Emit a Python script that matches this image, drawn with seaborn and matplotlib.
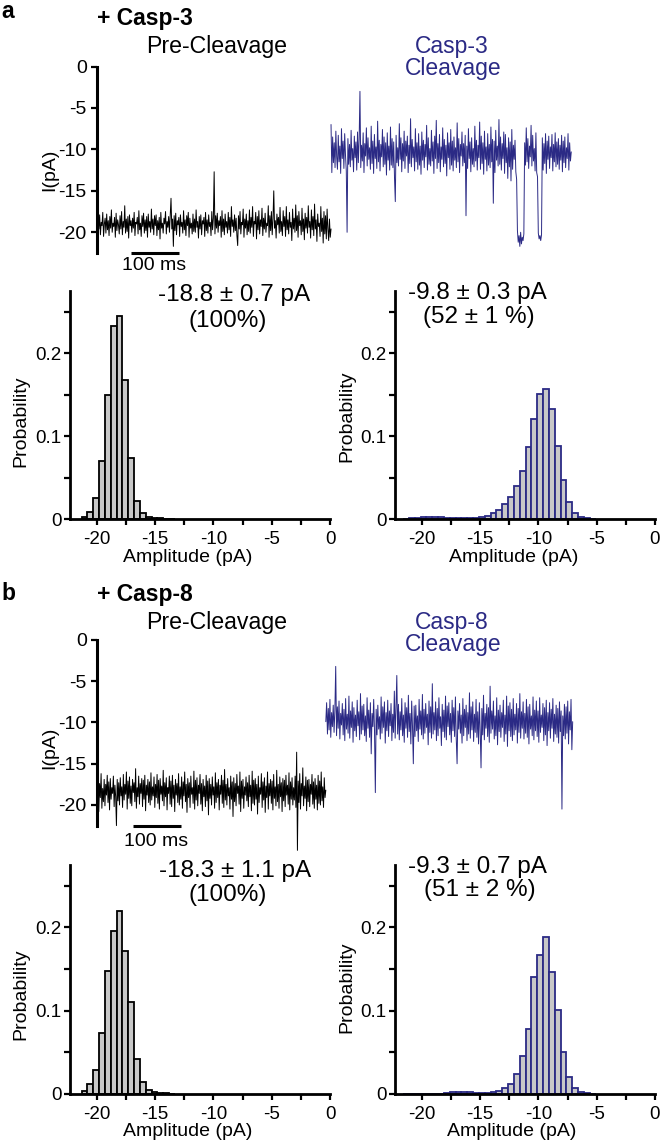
import numpy as np
import pandas as pd
import matplotlib
matplotlib.use("Agg")
import matplotlib.pyplot as plt
import seaborn as sns

# ---------------- data ----------------
BLUE = "#2b2a85"
GRAY = "#c8c8c8"

# panel a, current trace (pA), pre-cleavage (0-494 ms) and after Casp-3 cleavage (494-1000 ms)
trace_a_pre = [
    -17.0, -20.9, -18.4, -19.6, -17.9, -20.3, -18.8, -19.2, -17.6, -20.5, -19.0, -18.3, -20.1, -17.8, -19.7,
    -18.6, -20.4, -18.1, -19.5, -17.3, -20.0, -18.9, -19.3, -18.2, -20.6, -17.7, -19.8, -18.5, -19.1, -20.2,
    -18.0, -19.6, -17.5, -20.3, -18.7, -19.4, -16.8, -20.1, -18.4, -19.9, -18.1, -20.7, -17.9, -19.2, -18.6,
    -20.0, -18.3, -19.5, -17.6, -20.4, -18.8, -19.0, -18.2, -20.2, -17.4, -19.7, -18.9, -20.5, -18.0, -19.3,
    -17.7, -20.1, -18.5, -19.8, -18.1, -20.6, -17.8, -19.4, -18.7, -20.0, -17.2, -19.6, -18.4, -20.3, -18.0,
    -19.2, -17.9, -20.4, -18.6, -19.7, -18.2, -20.8, -17.6, -19.5, -18.9, -20.1, -18.3, -19.0, -17.5, -20.2,
    -18.7, -19.4, -18.1, -20.0, -17.8, -15.9, -19.6, -18.4, -21.7, -18.0, -19.8, -17.7, -20.3, -18.6, -19.1,
    -18.2, -20.5, -17.9, -19.3, -18.8, -20.1, -17.4, -19.7, -18.5, -20.4, -18.0, -19.2, -17.6, -20.6, -18.3,
    -19.5, -18.9, -20.2, -17.8, -19.9, -18.4, -20.0, -17.3, -19.4, -18.7, -20.7, -18.1, -19.6, -17.9, -20.3,
    -18.6, -19.0, -18.2, -20.5, -17.6, -19.8, -18.5, -20.1, -17.9, -19.3, -18.8, -20.4, -17.5, -19.7, -18.3,
    -12.7, -20.2, -18.0, -19.5, -17.7, -20.0, -18.6, -19.2, -18.1, -20.6, -17.4, -19.9, -18.4, -20.3, -17.8,
    -19.4, -18.7, -20.1, -17.6, -19.7, -18.2, -20.5, -16.9, -19.3, -18.5, -20.0, -17.9, -19.8, -18.3, -20.4,
    -21.6, -18.0, -19.6, -17.5, -20.2, -18.8, -19.1, -17.2, -20.6, -18.4, -19.5, -17.8, -20.3, -18.6, -19.9,
    -17.3, -20.1, -18.2, -19.4, -16.9, -20.5, -18.7, -19.0, -17.6, -20.8, -18.1, -19.7, -17.4, -20.2, -18.5,
    -19.3, -17.1, -20.4, -18.3, -19.6, -17.7, -20.0, -18.9, -19.2, -16.8, -20.6, -18.0, -19.8, -17.5, -20.3,
    -18.4, -15.0, -19.5, -18.6, -20.7, -17.8, -19.1, -18.2, -20.1, -17.0, -19.9, -18.7, -20.4, -17.4, -19.3,
    -18.1, -20.5, -16.9, -19.7, -18.5, -20.2, -17.6, -19.4, -18.8, -21.0, -17.2, -19.6, -18.3, -20.0, -16.7,
    -19.8, -18.0, -20.6, -17.5, -19.2, -18.6, -20.3, -17.1, -19.9, -18.4, -20.9, -17.7, -19.5, -18.2, -20.1,
    -16.8, -19.4, -18.7, -20.7, -17.3, -19.7, -18.1, -20.4, -16.6, -19.6, -18.5, -21.1, -17.8, -19.3, -18.9,
    -20.5, -16.9, -19.9, -18.3, -21.3, -17.5, -20.2, -18.0, -20.8, -17.2, -19.6, -21.0, -18.4, -20.6, -19.6,
]
trace_a_post = [
    -7.0, -12.8, -8.5, -11.6, -9.2, -12.2, -7.8, -10.9, -12.4, -8.3, -11.5, -9.6, -12.9, -7.5, -11.1,
    -9.0, -12.3, -8.1, -10.7, -12.6, -20.0, -8.7, -11.8, -9.4, -12.1, -7.7, -11.3, -9.9, -12.7, -8.4,
    -11.0, -9.1, -12.5, -7.9, -11.6, -8.8, -3.0, -12.2, -9.5, -11.4, -8.0, -12.8, -9.3, -10.8, -7.4,
    -12.0, -8.6, -11.2, -9.8, -12.4, -7.2, -11.7, -9.0, -12.9, -8.2, -11.1, -9.7, -12.3, -6.6, -11.5,
    -8.9, -12.6, -9.4, -10.9, -7.6, -12.1, -8.5, -11.8, -9.2, -13.1, -8.0, -11.3, -9.6, -12.5, -7.3,
    -11.9, -8.7, -12.2, -9.1, -13.4, -16.3, -8.3, -11.6, -9.8, -12.0, -6.9, -11.2, -8.6, -12.7, -9.3,
    -11.4, -7.8, -12.3, -9.0, -10.8, -8.4, -12.8, -9.5, -11.7, -6.3, -12.1, -8.8, -11.0, -9.7, -12.6,
    -7.5, -11.5, -9.2, -12.4, -8.1, -11.9, -9.6, -13.0, -7.9, -11.3, -8.9, -12.2, -9.4, -10.9, -7.1,
    -12.5, -8.6, -11.8, -9.9, -12.0, -7.7, -11.4, -9.1, -12.9, -8.4, -11.1, -6.5, -12.3, -9.3, -11.6,
    -8.2, -12.7, -9.7, -11.2, -7.4, -12.1, -8.8, -11.7, -9.5, -13.2, -8.0, -11.0, -9.2, -12.4, -7.6,
    -11.9, -9.0, -12.6, -8.5, -11.3, -9.8, -12.2, -6.8, -11.5, -8.7, -12.8, -9.4, -10.8, -7.9, -12.0,
    -9.3, -11.6, -8.3, -18.0, -9.6, -12.3, -7.5, -11.1, -9.1, -12.7, -8.6, -11.8, -9.9, -12.1, -7.2,
    -11.4, -8.9, -12.5, -9.5, -11.0, -6.7, -12.4, -8.4, -11.7, -9.2, -13.0, -7.8, -11.2, -9.7, -12.6,
    -8.1, -11.9, -9.4, -12.2, -7.3, -11.5, -8.8, -16.5, -9.0, -12.8, -7.7, -11.3, -9.6, -12.0, -6.4,
    -11.8, -8.5, -12.5, -9.3, -11.1, -7.9, -12.9, -8.2, -11.6, -9.8, -13.5, -8.6, -12.1, -9.1, -13.8,
    -7.6, -12.4, -9.5, -11.2, -8.9, -12.7, -13.6, -19.8, -21.2, -20.4, -21.7, -20.0, -21.4, -20.6, -21.0,
    -20.2, -9.2, -11.9, -7.4, -11.5, -8.7, -12.3, -9.6, -10.9, -7.1, -12.0, -8.3, -11.4, -9.9, -12.6,
    -8.0, -12.8, -13.3, -20.1, -20.8, -20.4, -21.0, -20.3, -8.6, -12.5, -9.3, -11.7, -8.1, -12.9, -9.0,
    -11.2, -8.4, -12.3, -9.7, -11.0, -8.2, -12.6, -9.4, -11.5, -8.0, -12.1, -9.1, -11.8, -8.7, -12.4,
    -9.5, -11.3, -8.3, -12.7, -9.0, -11.6, -8.5, -12.2, -9.8, -11.1, -8.1, -12.5, -9.2, -11.4, -10.3,
]
# panel b, pre-cleavage (0-483 ms) and after Casp-8 cleavage (483-1003 ms)
trace_b_pre = [
    -14.5, -19.9, -16.6, -20.8, -17.4, -19.1, -16.2, -20.4, -18.0, -19.6, -16.9, -20.1, -17.5, -18.8, -16.4,
    -19.7, -17.2, -20.6, -16.8, -19.3, -17.9, -18.6, -16.5, -20.2, -17.6, -19.0, -22.5, -16.9, -19.5, -17.3,
    -20.0, -16.7, -18.9, -17.8, -20.3, -16.3, -19.4, -17.5, -18.7, -16.0, -20.5, -17.1, -19.2, -16.6, -19.8,
    -17.7, -20.1, -16.9, -18.5, -17.3, -19.6, -15.6, -20.4, -17.9, -19.0, -16.5, -19.9, -17.4, -18.6, -16.8,
    -20.2, -17.0, -19.3, -16.4, -20.7, -17.6, -18.8, -16.9, -19.7, -17.2, -20.0, -16.1, -19.4, -17.8, -18.9,
    -16.6, -20.3, -17.5, -19.1, -16.3, -19.8, -17.0, -20.5, -16.8, -18.7, -17.7, -19.5, -15.8, -20.1, -17.3,
    -19.0, -16.7, -20.6, -17.9, -18.6, -16.5, -19.9, -17.1, -20.2, -16.4, -19.2, -17.6, -20.8, -16.9, -18.8,
    -17.4, -19.7, -16.2, -20.0, -17.8, -19.3, -16.6, -20.4, -17.2, -18.9, -16.0, -19.6, -17.5, -20.9, -16.8,
    -19.1, -17.3, -20.3, -16.5, -18.7, -17.9, -19.8, -15.9, -20.5, -17.0, -19.4, -16.7, -20.1, -17.6, -18.6,
    -16.3, -19.9, -17.4, -20.7, -16.9, -19.0, -17.7, -20.2, -16.4, -19.5, -17.1, -21.2, -16.8, -19.2, -17.5,
    -20.0, -16.6, -18.8, -17.8, -20.4, -16.1, -19.7, -17.3, -19.1, -16.9, -20.6, -17.6, -18.7, -16.4, -19.8,
    -17.0, -20.3, -15.7, -19.4, -17.5, -20.0, -16.8, -18.9, -17.9, -20.5, -16.5, -19.3, -17.2, -21.4, -16.7,
    -19.6, -17.4, -20.1, -16.3, -18.6, -17.7, -19.9, -16.0, -20.8, -17.1, -19.2, -16.9, -20.4, -17.8, -18.8,
    -16.6, -19.5, -17.3, -20.2, -16.4, -19.0, -17.6, -20.7, -15.9, -19.8, -17.0, -20.0, -16.8, -19.3, -17.5,
    -21.1, -16.5, -19.7, -17.9, -18.7, -16.2, -20.3, -17.2, -19.4, -16.7, -20.9, -17.7, -19.1, -16.0, -20.5,
    -17.4, -18.9, -16.9, -19.8, -17.1, -20.6, -16.3, -19.2, -17.8, -20.1, -15.8, -19.6, -17.5, -20.4, -16.6,
    -19.0, -17.3, -20.8, -16.8, -19.5, -17.0, -20.2, -16.4, -18.8, -17.6, -19.9, -16.1, -20.6, -17.2, -19.3,
    -16.7, -20.0, -17.9, -19.4, -16.5, -20.3, -13.6, -25.5, -17.1, -19.7, -16.2, -20.5, -17.4, -18.9, -15.5,
    -20.1, -17.7, -19.2, -16.6, -20.7, -17.0, -19.6, -16.9, -20.2, -17.5, -18.7, -16.3, -19.9, -17.2, -20.4,
    -16.8, -19.3, -17.6, -20.6, -16.4, -19.8, -17.1, -20.0, -16.0, -19.5, -17.8, -20.3, -16.7, -19.1, -18.2,
]
trace_b_post = [
    -9.9, -7.6, -11.4, -8.3, -10.9, -7.2, -11.8, -8.8, -10.5, -7.9, -11.2, -8.5, -3.2, -11.6, -8.1,
    -10.7, -7.4, -12.0, -8.9, -10.3, -7.7, -11.5, -8.4, -12.2, -7.1, -10.8, -9.0, -11.3, -6.8, -11.9,
    -8.6, -10.6, -7.5, -12.4, -8.2, -11.0, -9.1, -11.7, -7.3, -10.4, -8.7, -12.1, -6.5, -11.4, -8.0,
    -10.9, -7.8, -11.6, -9.2, -12.3, -7.0, -10.7, -8.5, -11.8, -7.6, -13.8, -8.9, -10.5, -7.2, -11.1,
    -18.5, -8.4, -11.5, -7.9, -10.8, -9.3, -12.0, -6.9, -11.3, -8.1, -10.6, -7.5, -12.5, -8.8, -11.0,
    -7.3, -11.7, -8.6, -10.4, -7.7, -12.2, -9.0, -11.2, -6.2, -11.9, -8.3, -4.3, -11.4, -7.8, -12.1,
    -8.7, -10.9, -7.1, -11.6, -9.1, -12.4, -7.6, -10.7, -8.2, -11.8, -6.7, -11.1, -8.9, -12.6, -7.4,
    -10.5, -15.0, -8.0, -11.7, -7.9, -11.0, -9.2, -12.3, -7.2, -10.8, -8.6, -11.5, -6.6, -12.0, -8.4,
    -11.3, -7.7, -10.6, -9.0, -12.7, -7.4, -11.2, -8.1, -11.9, -5.3, -11.4, -8.8, -10.9, -7.5, -12.2,
    -8.3, -11.6, -7.0, -10.7, -9.3, -12.8, -7.8, -11.1, -8.5, -11.8, -6.8, -12.1, -8.0, -10.5, -7.6,
    -11.5, -8.9, -12.4, -7.3, -11.0, -8.2, -11.7, -6.9, -12.0, -15.0, -8.6, -10.8, -7.7, -11.3, -9.1,
    -12.5, -7.1, -11.6, -8.4, -10.6, -7.9, -12.2, -8.8, -11.4, -6.4, -11.9, -8.1, -10.9, -7.5, -12.3,
    -9.0, -11.2, -7.2, -11.8, -8.7, -12.6, -7.6, -11.0, -15.5, -8.3, -11.5, -6.7, -12.1, -8.9, -10.7,
    -7.8, -11.7, -8.2, -12.4, -5.6, -11.3, -8.6, -10.8, -7.4, -12.0, -9.2, -11.6, -7.0, -12.7, -8.5,
    -11.1, -7.9, -11.8, -8.8, -10.6, -7.3, -12.3, -9.1, -11.4, -6.8, -12.9, -8.0, -11.0, -7.6, -11.7,
    -8.4, -12.2, -7.1, -11.5, -9.0, -10.9, -7.7, -12.5, -8.3, -11.2, -6.5, -11.9, -8.7, -10.7, -7.5,
    -12.0, -8.9, -11.3, -7.2, -11.8, -8.1, -12.6, -7.8, -10.8, -9.2, -11.6, -6.9, -12.1, -8.5, -11.0,
    -7.4, -11.7, -8.6, -12.4, -7.0, -11.2, -9.1, -10.6, -7.7, -12.2, -8.2, -11.5, -7.3, -12.8, -8.8,
    -11.0, -7.6, -11.9, -8.4, -10.7, -7.1, -12.3, -9.0, -11.4, -7.9, -11.8, -8.3, -12.5, -7.5, -11.1,
    -8.6, -20.5, -9.2, -11.6, -7.8, -12.0, -8.1, -11.3, -7.4, -12.6, -8.7, -10.9, -7.2, -13.3, -9.9,
]
time_span_a = [(0, 494), (494, 1000)]   # ms
time_span_b = [(0, 483), (483, 1003)]   # ms

# amplitude histograms: bin centres (pA) and probabilities
centers_pre = [-21.05, -20.55, -20.05, -19.55, -19.05, -18.55, -18.05, -17.55, -17.05,
               -16.55, -16.05, -15.55, -15.05, -14.55, -14.05, -13.55]
prob_a_pre = [0.002, 0.008, 0.025, 0.070, 0.150, 0.232, 0.245, 0.167, 0.074,
              0.022, 0.007, 0.003, 0.0012, 0.0008, 0.0005, 0.0004]
prob_b_pre = [0.004, 0.012, 0.029, 0.073, 0.148, 0.196, 0.220, 0.172, 0.110,
              0.042, 0.014, 0.005, 0.002, 0.001, 0.0008, 0.0006]

centers_post = [-21.35, -20.85, -20.35, -19.85, -19.35, -18.85, -18.35, -17.85, -17.35, -16.85,
                -16.35, -15.85, -15.35, -14.85, -14.35, -13.85, -13.35, -12.85, -12.35, -11.85,
                -11.35, -10.85, -10.35, -9.85, -9.35, -8.85, -8.35, -7.85, -7.35, -6.85,
                -6.35, -5.85, -5.35]
prob_a_post = [0.0005, 0.0008, 0.001, 0.002, 0.003, 0.003, 0.0025, 0.0015, 0.001, 0.0008,
               0.0007, 0.0008, 0.0012, 0.002, 0.004, 0.007, 0.011, 0.018, 0.026, 0.040,
               0.058, 0.087, 0.121, 0.151, 0.157, 0.133, 0.088, 0.047, 0.020, 0.007,
               0.002, 0.001, 0.0005]
prob_b_post = [0.0, 0.0, 0.0, 0.0, 0.0, 0.0, 0.0005, 0.001, 0.002, 0.003,
               0.003, 0.0025, 0.0015, 0.001, 0.0012, 0.002, 0.004, 0.007, 0.012, 0.024,
               0.046, 0.078, 0.141, 0.167, 0.188, 0.147, 0.101, 0.050, 0.020, 0.007,
               0.003, 0.001, 0.0005]

hist_labels = {
    "a_pre": ["-18.8 ± 0.7 pA", "(100%)"],
    "a_post": ["-9.8 ± 0.3 pA", "(52 ± 1 %)"],
    "b_pre": ["-18.3 ± 1.1 pA", "(100%)"],
    "b_post": ["-9.3 ± 0.7 pA", "(51 ± 2 %)"],
}

# ---------------- style ----------------
sns.set_theme(style="ticks")
plt.rcParams["font.family"] = ["Liberation Sans", "DejaVu Sans"]
plt.rcParams["axes.unicode_minus"] = False
for k in ["text.color", "axes.labelcolor", "xtick.color", "ytick.color", "axes.edgecolor"]:
    plt.rcParams[k] = "black"

W, H = 660, 1147
fig = plt.figure(figsize=(W / 100, H / 100), dpi=100)
fig.patch.set_facecolor("white")


def add_ax(left, top, right, bottom):
    return fig.add_axes([left / W, 1 - bottom / H, (right - left) / W, (bottom - top) / H])


def ftext(x, y, s, **kw):
    kw.setdefault("ha", "center")
    kw.setdefault("va", "center")
    kw.setdefault("color", "black")
    fig.text(x / W, 1 - y / H, s, **kw)


def trace_panel(ax, pre, post, spans, scalebar):
    for vals, (t0, t1), col in [(pre, spans[0], "black"), (post, spans[1], BLUE)]:
        df = pd.DataFrame({"t": np.linspace(t0, t1, len(vals)), "I": vals})
        sns.lineplot(data=df, x="t", y="I", ax=ax, color=col, lw=0.7, estimator=None,
                     sort=False, clip_on=False)
    ax.set_xlim(0, 1010)
    ax.set_ylim(-22.5, 0)
    ax.set_xticks([])
    ax.set_yticks([-20, -15, -10, -5, 0])
    ax.set_yticklabels(["-20", "-15", "-10", "-5", "0"])
    for s in ["top", "right", "bottom"]:
        ax.spines[s].set_visible(False)
    ax.spines["left"].set_linewidth(2.2)
    ax.spines["left"].set_color("black")
    ax.tick_params(axis="y", labelsize=14, length=4, width=1.6, pad=3, colors="black")
    ax.set_xlabel("")
    ax.set_ylabel("")
    ax.set_facecolor("none")
    ax.plot(scalebar, [-22.5, -22.5], color="black", lw=2.2, clip_on=False,
            solid_capstyle="butt")


def hist_panel(ax, centers, probs, edge):
    centers = list(centers)
    edges = [c - 0.25 for c in centers] + [centers[-1] + 0.25]
    df = pd.DataFrame({"amp": centers, "prob": probs})
    sns.histplot(data=df, x="amp", weights="prob", bins=edges, ax=ax, color=GRAY,
                 edgecolor=edge, linewidth=1.3, alpha=1)
    ax.set_xlim(-22.3, 0)
    ax.set_ylim(0, 0.275)
    ax.set_xticks([-20, -15, -10, -5, 0])
    ax.set_xticklabels(["-20", "-15", "-10", "-5", "0"])
    ax.set_xticks([-17.5, -12.5, -7.5, -2.5], minor=True)
    ax.set_yticks([0, 0.1, 0.2])
    ax.set_yticklabels(["0", "0.1", "0.2"])
    ax.set_yticks([0.05, 0.15, 0.25], minor=True)
    for s in ["top", "right"]:
        ax.spines[s].set_visible(False)
    for s in ["left", "bottom"]:
        ax.spines[s].set_linewidth(2.0)
        ax.spines[s].set_color("black")
    ax.tick_params(axis="both", which="both", length=4.5, width=1.6, colors="black")
    ax.tick_params(axis="x", which="major", labelsize=13.5, pad=4)
    ax.tick_params(axis="y", which="major", labelsize=13.5, pad=1.5)
    ax.set_xlabel("")
    ax.set_ylabel("")
    ax.set_facecolor("none")


# ---------------- panel a ----------------
ax_ta = add_ax(96.5, 66.5, 576, 253)
trace_panel(ax_ta, trace_a_pre, trace_a_post, time_span_a, [73, 173])
ax_ha1 = add_ax(70, 290.8, 330, 519)
hist_panel(ax_ha1, centers_pre, prob_a_pre, "black")
ax_ha2 = add_ax(395, 290.8, 655, 519)
hist_panel(ax_ha2, centers_post, prob_a_post, BLUE)

# ---------------- panel b ----------------
ax_tb = add_ax(96.5, 640, 576, 825.6)
trace_panel(ax_tb, trace_b_pre, trace_b_post, time_span_b, [77, 178])
ax_hb1 = add_ax(70, 865, 330, 1094)
hist_panel(ax_hb1, centers_pre, prob_b_pre, "black")
ax_hb2 = add_ax(395, 865, 655, 1094)
hist_panel(ax_hb2, centers_post, prob_b_post, BLUE)

# ---------------- texts ----------------
ftext(8, 12, "a", fontsize=16.5, fontweight="bold")
ftext(97, 18, "+ Casp-3", fontsize=16.5, fontweight="bold", ha="left")
ftext(217, 46, "Pre-Cleavage", fontsize=16.7)
ftext(452, 46, "Casp-3", fontsize=16.5, color=BLUE)
ftext(453, 69, "Cleavage", fontsize=16.5, color=BLUE)
ftext(50, 170, "I(pA)", fontsize=14, rotation=90)
ftext(154, 266, "100 ms", fontsize=14)

ftext(8, 593, "b", fontsize=16.5, fontweight="bold")
ftext(97, 594, "+ Casp-8", fontsize=16.5, fontweight="bold", ha="left")
ftext(217, 622, "Pre-Cleavage", fontsize=16.7)
ftext(452, 622, "Casp-8", fontsize=16.5, color=BLUE)
ftext(453, 644, "Cleavage", fontsize=16.5, color=BLUE)
ftext(50, 748, "I(pA)", fontsize=14, rotation=90)
ftext(156, 842, "100 ms", fontsize=14)

ftext(234, 295, hist_labels["a_pre"][0], fontsize=17.5)
ftext(228, 321, hist_labels["a_pre"][1], fontsize=17.5)
ftext(477, 293, hist_labels["a_post"][0], fontsize=17.5)
ftext(479, 317, hist_labels["a_post"][1], fontsize=17.5)
ftext(235, 871, hist_labels["b_pre"][0], fontsize=17.5)
ftext(228, 895, hist_labels["b_pre"][1], fontsize=17.5)
ftext(477, 867, hist_labels["b_post"][0], fontsize=17.5)
ftext(480, 890, hist_labels["b_post"][1], fontsize=17.5)

for (x, y) in [(21, 421), (347, 416), (21, 994), (347, 987)]:
    ftext(x, y, "Probability", fontsize=14, rotation=90)
for (x, y) in [(188, 558), (514, 558), (188, 1132), (512, 1132)]:
    ftext(x, y, "Amplitude (pA)", fontsize=14)

fig.savefig("out.png", dpi=100, facecolor="white")
